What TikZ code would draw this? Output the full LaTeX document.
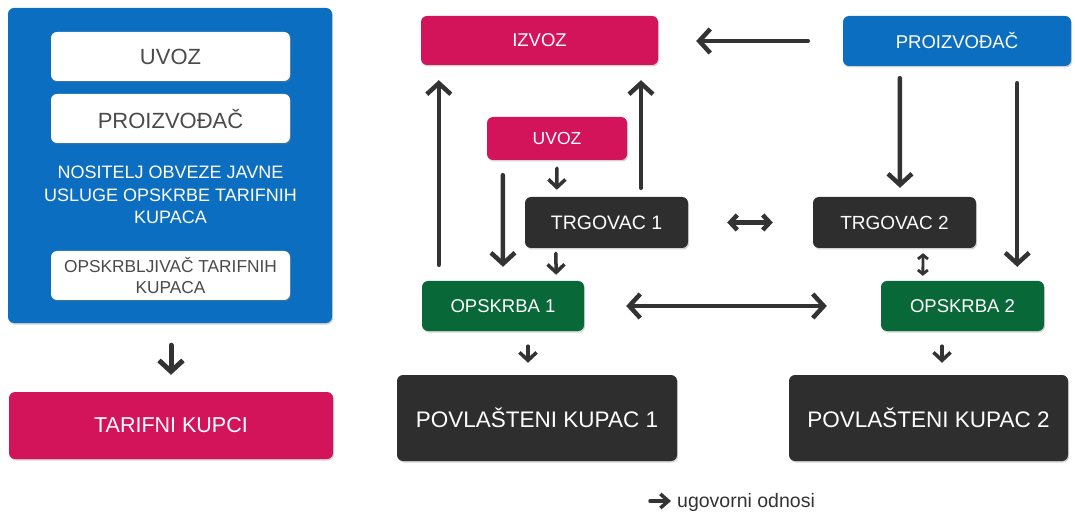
\documentclass[tikz,border=0pt]{standalone}
\usepackage{fontspec}
\setmainfont{Liberation Sans}
\usetikzlibrary{arrows.meta,shadows}
\definecolor{cblue}{RGB}{12,110,192}
\definecolor{cpink}{RGB}{212,20,90}
\definecolor{cdark}{RGB}{46,46,46}
\definecolor{cgreen}{RGB}{9,104,56}
\definecolor{carrow}{RGB}{51,51,51}
\definecolor{cgraytext}{RGB}{74,74,74}
\begin{document}
\begin{tikzpicture}[x=1pt,y=-1pt,
  box/.style={rectangle, rounded corners=6pt, inner sep=0pt, align=center,
    drop shadow={shadow xshift=1pt,shadow yshift=-1.5pt,opacity=0.35}},
  bluebox/.style={box, fill=cblue, text=white},
  pinkbox/.style={box, fill=cpink, text=white},
  darkbox/.style={box, fill=cdark, text=white},
  greenbox/.style={box, fill=cgreen, text=white},
  whitebox/.style={box, fill=white, text=cgraytext},
  bigarr/.style={draw=carrow, line width=4.5pt, line cap=round,
    -{Straight Barb[length=11pt,width=24pt]}},
  bigdbl/.style={draw=carrow, line width=4.5pt, line cap=round,
    {Straight Barb[length=11pt,width=24pt]}-{Straight Barb[length=11pt,width=24pt]}},
  meddbl/.style={draw=carrow, line width=4.5pt, line cap=round,
    {Straight Barb[length=7pt,width=15pt]}-{Straight Barb[length=7pt,width=15pt]}},
  smallarr/.style={draw=carrow, line width=3.5pt, line cap=round,
    -{Straight Barb[length=8pt,width=17pt]}},
  tinydbl/.style={draw=carrow, line width=2.8pt, line cap=round,
    {Straight Barb[length=4pt,width=10pt]}-{Straight Barb[length=4pt,width=10pt]}},
  legarr/.style={draw=carrow, line width=3.5pt, line cap=round,
    -{Straight Barb[length=8pt,width=14pt]}}
]
\useasboundingbox (0,0) rectangle (1075,518);

% left panel
\node[bluebox, minimum width=324pt, minimum height=315pt] (leftbox) at (170,165.5) {};
\node[whitebox, minimum width=239pt, minimum height=49pt, font=\fontsize{22}{26}\selectfont] (luvoz) at (170.5,56.5) {UVOZ};
\node[whitebox, minimum width=239pt, minimum height=49pt, font=\fontsize{22}{26}\selectfont] (lproiz) at (170.5,118.5) {PROIZVOĐAČ};
\node[text=white, align=center, font=\fontsize{18}{22.5}\selectfont, inner sep=0pt] (ltext) at (170.5,195) {NOSITELJ OBVEZE JAVNE\\USLUGE OPSKRBE TARIFNIH\\KUPACA};
\node[whitebox, minimum width=239pt, minimum height=49pt, font=\fontsize{17.3}{21}\selectfont] (lopskrb) at (170.5,275.5) {OPSKRBLJIVAČ TARIFNIH\\KUPACA};
\node[pinkbox, minimum width=324pt, minimum height=67pt, font=\fontsize{21.5}{26}\selectfont] (tarifni) at (171,425.5) {TARIFNI KUPCI};

% right diagram
\node[pinkbox, minimum width=237pt, minimum height=49pt, font=\fontsize{18.5}{22}\selectfont] (izvoz) at (539.5,40.5) {IZVOZ};
\node[bluebox, minimum width=228pt, minimum height=50pt, font=\fontsize{18.5}{22}\selectfont] (proiz) at (957,41) {PROIZVOĐAČ};
\node[pinkbox, minimum width=140pt, minimum height=43pt, font=\fontsize{17.5}{21}\selectfont] (uvoz) at (557,138.5) {UVOZ};
\node[darkbox, minimum width=163pt, minimum height=51pt, font=\fontsize{19.5}{23}\selectfont] (tr1) at (606.5,222.5) {TRGOVAC 1};
\node[darkbox, minimum width=163pt, minimum height=51pt, font=\fontsize{19}{23}\selectfont] (tr2) at (894.5,222.5) {TRGOVAC 2};
\node[greenbox, minimum width=162pt, minimum height=50pt, font=\fontsize{18.5}{22}\selectfont] (op1) at (503,306) {OPSKRBA 1};
\node[greenbox, minimum width=163pt, minimum height=50pt, font=\fontsize{18.5}{22}\selectfont] (op2) at (962.5,306) {OPSKRBA 2};
\node[darkbox, minimum width=280pt, minimum height=86pt, font=\fontsize{22.5}{27}\selectfont] (pk1) at (537,418) {POVLAŠTENI KUPAC 1};
\node[darkbox, minimum width=279pt, minimum height=86pt, font=\fontsize{22.5}{27}\selectfont] (pk2) at (928.5,418) {POVLAŠTENI KUPAC 2};

% legend
\node[anchor=base west, text=carrow, inner sep=0pt, font=\fontsize{19.5}{23}\selectfont] (legend) at (677,507) {ugovorni odnosi};
\coordinate (legA) at (650,501);
\draw[legarr, shorten >=6pt] (legA) -- (legend.west |- legA);

% arrows
\draw[bigarr, draw=carrow, line width=5pt, shorten <=22pt, shorten >=17pt] ([xshift=1pt]leftbox.south) -- (tarifni.north);
\draw[bigarr, shorten <=35pt, shorten >=38pt] (proiz.west) -- (proiz.west -| izvoz.east);
\draw[bigarr, shorten <=16pt, shorten >=15pt] ([xshift=17pt]op1.north west) -- ([xshift=18pt]izvoz.south west);
\draw[bigarr, shorten <=9pt, shorten >=15pt] ([xshift=34.5pt]tr1.north) -- ([xshift=101.5pt]izvoz.south);
\draw[bigarr, shorten <=15pt, shorten >=14pt] ([xshift=16pt]uvoz.south west) -- (op1.north);
\draw[smallarr, shorten <=8pt, shorten >=7pt] (uvoz.south) -- ([xshift=32pt]tr1.north west);
\draw[smallarr, shorten <=5pt, shorten >=6pt] ([xshift=31pt]tr1.south west) -- ([xshift=-28pt]op1.north east);
\draw[meddbl, shorten <=39pt, shorten >=40pt] (tr1.east) -- (tr2.west);
\draw[bigdbl, shorten <=42pt, shorten >=54pt] (op1.east) -- (op2.west);
\draw[bigarr, shorten <=12pt, shorten >=9pt] ([xshift=57pt]proiz.south west) -- ([xshift=5.5pt]tr2.north);
\draw[bigarr, shorten <=17pt, shorten >=14pt] ([xshift=-54pt]proiz.south east) -- ([xshift=-27pt]op2.north east);
\draw[tinydbl, shorten <=5pt, shorten >=5pt] ([xshift=28.5pt]tr2.south) -- ([xshift=42pt]op2.north west);
\draw[smallarr, shorten <=15pt, shorten >=12pt] ([xshift=25pt]op1.south) -- ([xshift=-9pt]pk1.north);
\draw[smallarr, shorten <=15pt, shorten >=12pt] ([xshift=-20.5pt]op2.south) -- ([xshift=13.5pt]pk2.north);
\end{tikzpicture}
\end{document}
